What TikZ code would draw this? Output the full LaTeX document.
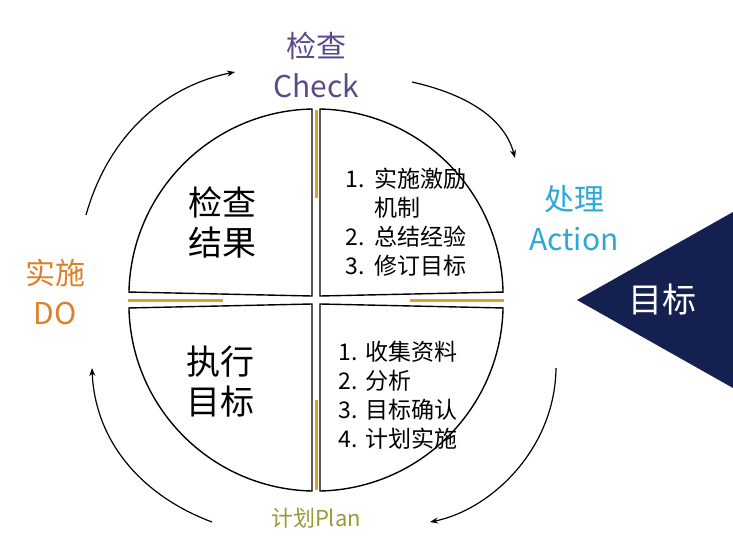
\documentclass[tikz,border=0pt]{standalone}
\usepackage{fontspec}
\setmainfont{Noto Sans CJK SC}
\usepackage{tikz}
\usetikzlibrary{arrows.meta}
\definecolor{checkc}{HTML}{5B4A8A}
\definecolor{actc}{HTML}{2AA8D8}
\definecolor{doc}{HTML}{D9822B}
\definecolor{planc}{HTML}{9A9A3A}
\definecolor{gold}{HTML}{D9A030}
\definecolor{navy}{HTML}{14204F}
\tikzset{
  quarter/.style={draw, line width=1.4pt, fill=white},
  bar/.style={draw=gold, line width=3pt},
  cycle/.style={line width=1.2pt, -{Stealth[length=8pt]}},
  big/.style={font=\fontsize{34}{40}\selectfont, align=center},
  list/.style={font=\fontsize{23}{29}\selectfont, align=left},
  tag/.style={font=\fontsize{30}{40}\selectfont, align=center}
}
\begin{document}
\begin{tikzpicture}[x=1pt,y=-1pt]
  \useasboundingbox (0,0) rectangle (733,546);
  % quarters of the circle
  \draw[quarter] (312,296) -- (312,109) arc[start angle=-91.2, end angle=-178.8, radius=187] -- cycle;
  \draw[quarter] (320,296) -- (320,109) arc[start angle=-88.8, end angle=-1.2, radius=187] -- cycle;
  \draw[quarter] (312,304) -- (312,491) arc[start angle=91.2, end angle=178.8, radius=187] -- cycle;
  \draw[quarter] (320,304) -- (320,491) arc[start angle=88.8, end angle=1.2, radius=187] -- cycle;
  \draw[bar] (316,110) -- (316,198);
  \draw[bar] (128,300) -- (223,300);
  \draw[bar] (410,300) -- (504,300);
  \draw[bar] (316,400) -- (316,490);
  % texts in the quarters
  \node[big] (res) at (222,222) {检查\\结果};
  \node[big] (goal) at (220,382) {执行\\目标};
  \node[list] (act) at (406,222) {1.\ \ 实施激励\\\phantom{1.\ \ }机制\\2.\ \ 总结经验\\3.\ \ 修订目标};
  \node[list] (plan) at (398,395) {1. 收集资料\\2. 分析\\3. 目标确认\\4. 计划实施};
  % phase labels
  \node[tag, text=checkc] (check) at (316,65) {检查\\Check};
  \node[tag, text=actc] (action) at (574,218) {处理\\Action};
  \node[tag, text=doc] (do) at (55,292) {实施\\DO};
  \node[font=\fontsize{22}{26}\selectfont, text=planc] (pl) at (316,518) {计划Plan};
  % target
  \fill[navy] (577,300) -- (733,212) -- (733,388) -- cycle;
  \node[font=\fontsize{34}{40}\selectfont, text=white] (tgt) at (662,300) {目标};
  % cycle arrows
  \coordinate (a1) at (86,215);  \coordinate (b1) at (235,72);
  \coordinate (a2) at (412,82);  \coordinate (b2) at (515,158);
  \coordinate (a3) at (556,368); \coordinate (b3) at (430,522);
  \coordinate (a4) at (212,522); \coordinate (b4) at (92,368);
  \draw[cycle] (a1) .. controls (110,130) and (170,85) .. (b1);
  \draw[cycle] (a2) .. controls (470,95) and (505,120) .. (b2);
  \draw[cycle] (a3) .. controls (555,450) and (490,510) .. (b3);
  \draw[cycle] (a4) .. controls (140,495) and (95,440) .. (b4);
\end{tikzpicture}
\end{document}
